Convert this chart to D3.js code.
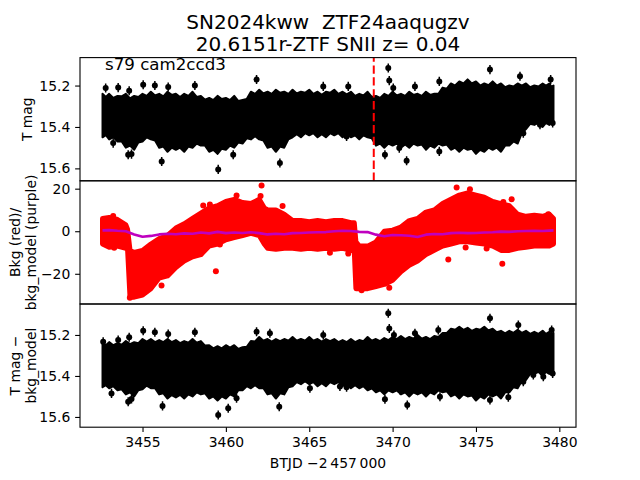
<!DOCTYPE html>
<html><head><meta charset="utf-8">
<script src="https://cdn.jsdelivr.net/npm/d3@7"></script>
<style>
body{margin:0;background:#fff;}
text{font-family:"DejaVu Sans",sans-serif;fill:#000;white-space:pre;}
</style>
</head><body><svg id="c" width="640" height="480"></svg>
<script>
// ---------------- DATA ----------------
const titleLines = ["SN2024kww  ZTF24aaqugzv", "20.6151r-ZTF SNII z= 0.04"];
const sectorLabel = "s79 cam2ccd3";
const xLabel = "BTJD \u22122\u2009457\u2009000";
const yLabels = [["T mag"], ["Bkg (red)/", "bkg_model (purple)"], ["T mag \u2212", "bkg_model"]];
const xTicks = [3455, 3460, 3465, 3470, 3475, 3480];
const magTicks = [15.2, 15.4, 15.6];
const bkgTicks = [20, 0, -20];
const xLimits = [3451.25, 3481.0];
const magLimits = [15.065, 15.66];
const bkgLimits = [-34.2, 23.7];
const magBkgLimits = [15.049, 15.65];
const eventTime = 3468.87;

// black band (panel 1: T mag) envelope, sampled at bandTime and at the in-between midTime
const bandTime = [3452.6,3453,3453.5,3454,3454.5,3455,3455.5,3456,3456.5,3457,3457.5,3458,3458.5,3459,3459.5,3460,3460.5,3461,3461.5,3462,3462.5,3463,3463.5,3464,3464.5,3465,3465.5,3466,3466.5,3467,3467.5,3468,3468.5,3469,3469.5,3470,3470.5,3471,3471.5,3472,3472.5,3473,3473.5,3474,3474.5,3475,3475.5,3476,3476.5,3477,3477.5,3478,3478.5,3479,3479.4,3479.65];
const magTop = [15.24,15.24,15.25,15.24,15.25,15.24,15.23,15.24,15.23,15.24,15.24,15.23,15.25,15.26,15.25,15.26,15.25,15.27,15.23,15.22,15.23,15.22,15.23,15.22,15.23,15.22,15.23,15.23,15.22,15.23,15.23,15.24,15.23,15.25,15.24,15.23,15.24,15.23,15.24,15.23,15.24,15.21,15.19,15.18,15.17,15.18,15.19,15.18,15.19,15.20,15.19,15.19,15.20,15.19,15.19,15.20];
const magBottom = [15.45,15.46,15.47,15.50,15.51,15.47,15.46,15.50,15.52,15.51,15.52,15.50,15.49,15.52,15.53,15.51,15.50,15.48,15.46,15.46,15.50,15.52,15.50,15.45,15.45,15.44,15.45,15.45,15.44,15.45,15.45,15.46,15.45,15.49,15.50,15.49,15.50,15.50,15.49,15.51,15.50,15.49,15.51,15.52,15.51,15.53,15.52,15.51,15.52,15.49,15.48,15.41,15.39,15.40,15.39,15.38];
const midTime = [3452.8,3453.25,3453.75,3454.25,3454.75,3455.25,3455.75,3456.25,3456.75,3457.25,3457.75,3458.25,3458.75,3459.25,3459.75,3460.25,3460.75,3461.25,3461.75,3462.25,3462.75,3463.25,3463.75,3464.25,3464.75,3465.25,3465.75,3466.25,3466.75,3467.25,3467.75,3468.25,3468.75,3469.25,3469.75,3470.25,3470.75,3471.25,3471.75,3472.25,3472.75,3473.25,3473.75,3474.25,3474.75,3475.25,3475.75,3476.25,3476.75,3477.25,3477.75,3478.25,3478.75,3479.2,3479.52];
const magTopMid = [15.255,15.26,15.252,15.262,15.255,15.25,15.248,15.252,15.245,15.255,15.25,15.255,15.268,15.27,15.265,15.27,15.275,15.265,15.24,15.238,15.24,15.235,15.24,15.238,15.235,15.24,15.245,15.235,15.24,15.242,15.25,15.248,15.255,15.26,15.25,15.248,15.25,15.245,15.25,15.245,15.24,15.215,15.2,15.19,15.19,15.2,15.198,15.2,15.208,15.205,15.2,15.208,15.205,15.2,15.205];
const magBottomMid = [15.44,15.45,15.47,15.49,15.475,15.45,15.465,15.495,15.5,15.5,15.495,15.48,15.49,15.51,15.505,15.49,15.475,15.455,15.445,15.465,15.495,15.495,15.46,15.435,15.43,15.43,15.435,15.43,15.43,15.435,15.44,15.44,15.455,15.48,15.48,15.48,15.485,15.48,15.485,15.49,15.48,15.485,15.5,15.5,15.505,15.51,15.5,15.5,15.49,15.47,15.43,15.385,15.38,15.38,15.37];
const magSpikeTime = [3452.79,3453.54,3454.2,3455.04,3455.74,3456.54,3458.14,3453.24,3454.14,3454.34,3456.15,3459.54,3460.44,3461.84,3463.24,3465.84,3467.34,3469.74,3469.8,3470.04,3471.34,3472.8,3475.84,3477.64,3479.48,3469.54,3470.4,3470.84,3472.8,3467.24,3477.84,3478.84,3479.6];
const magSpikeVal = [15.212,15.21,15.225,15.196,15.2,15.207,15.2,15.478,15.534,15.531,15.567,15.605,15.534,15.171,15.574,15.204,15.204,15.115,15.176,15.212,15.204,15.18,15.123,15.155,15.171,15.534,15.502,15.563,15.518,15.446,15.43,15.389,15.381];

// panel 2: background (red) envelope, outliers, and model (purple, sampled at bandTime)
const bkgTime = [3452.6,3453.0,3453.5,3454.0,3454.1,3454.25,3454.5,3455.0,3455.5,3456.0,3456.5,3457.0,3457.5,3458.0,3458.5,3459.0,3459.5,3460.0,3460.5,3461.0,3461.5,3462.0,3462.3,3462.5,3463.0,3463.5,3464.0,3464.5,3465.0,3465.5,3466.0,3466.5,3467.0,3467.5,3467.7,3467.8,3468.0,3468.5,3469.0,3469.5,3470.0,3470.5,3471.0,3471.5,3472.0,3472.5,3473.0,3473.5,3474.0,3474.5,3475.0,3475.5,3476.0,3476.5,3477.0,3477.5,3478.0,3478.5,3479.0,3479.4,3479.65];
const bkgTop = [6,6.5,5.5,3,1,-9,-10,-9,-6,-3.5,-2,1.5,3.5,6,8.5,11,12,14,15,13.5,13,15,11,10,10,8,5,5,4.5,5,4.5,5,5,4,4,-5,-7,-7,-5,0,0.5,2,5,6,9,10,13,15,17,18,17,16,14,13,12,8,7,7.5,7,8,6];
const bkgBottom = [-6,-7.5,-7,-8,-8,-31,-31,-30,-27,-22,-21,-17,-14,-12,-11,-7,-6,-4,-3,-2,-1,-2,-6,-8,-8.5,-8,-8,-8.5,-8,-8.5,-8,-8.5,-8,-9,-9,-27,-27,-27,-26,-25,-23,-19,-16,-14,-11,-9,-7,-6,-5,-5,-5.5,-6,-7,-9,-9,-8,-7.5,-7,-7,-7,-6];
const bkgOutTime = [3453.24,3453.3,3454.24,3454.42,3456.14,3458.64,3459.04,3459.4,3459.64,3460.64,3462.08,3462.14,3463.4,3466.24,3467.34,3468.14,3468.94,3469.8,3473.34,3473.84,3474.38,3474.64,3475.64,3476.58,3476.64,3477.14,3479.34];
const bkgOutVal = [7.1,-7.8,-31.3,-29,-25.5,12.1,12.6,-18.8,-6.2,16.8,16.5,21.5,11.8,-10.1,-10.5,-27.7,-25.5,-26.6,-13.3,20.5,-7.7,19.7,-8.1,-15.3,13.7,15,8];
const modelVal = [0.4,0.5,0.2,0,-1.5,-2.6,-2.2,-1.5,-1.2,-1.4,-1.0,-1.2,-0.6,-1.0,-0.3,-0.9,-0.6,-0.8,-0.5,-0.9,-1.5,-1.2,-1.4,-0.9,-0.8,-0.6,-0.5,-0.4,0.0,0.2,0.1,-0.3,-0.4,-1.6,-2.4,-1.8,-1.9,-2.1,-2.7,-1.6,-1.3,-1.4,-0.9,-0.7,-0.9,-0.8,-0.6,-0.5,-0.2,-0.3,0.0,0.1,0.2,0.1,0.3,0.4];

// panel 3: T mag - bkg_model envelope
const magBkgTop = [15.24,15.235,15.24,15.23,15.235,15.22,15.22,15.225,15.22,15.225,15.23,15.22,15.23,15.25,15.255,15.25,15.25,15.26,15.23,15.21,15.22,15.22,15.22,15.21,15.22,15.21,15.22,15.22,15.22,15.225,15.22,15.225,15.21,15.22,15.215,15.21,15.205,15.21,15.20,15.21,15.205,15.19,15.17,15.16,15.165,15.17,15.16,15.17,15.18,15.18,15.175,15.18,15.185,15.18,15.185,15.19];
const magBkgBottom = [15.455,15.46,15.47,15.49,15.50,15.465,15.46,15.49,15.51,15.505,15.51,15.50,15.49,15.51,15.52,15.51,15.50,15.47,15.46,15.46,15.49,15.51,15.49,15.45,15.44,15.44,15.45,15.45,15.44,15.45,15.46,15.46,15.47,15.48,15.49,15.48,15.49,15.50,15.49,15.50,15.49,15.48,15.50,15.51,15.50,15.52,15.51,15.50,15.51,15.48,15.46,15.42,15.39,15.40,15.39,15.38];
const magBkgTopMid = [15.25,15.25,15.248,15.245,15.24,15.232,15.235,15.235,15.235,15.24,15.238,15.238,15.252,15.265,15.265,15.262,15.268,15.258,15.232,15.228,15.232,15.23,15.228,15.228,15.228,15.228,15.232,15.23,15.235,15.235,15.235,15.23,15.228,15.23,15.225,15.22,15.22,15.218,15.218,15.22,15.21,15.19,15.175,15.175,15.18,15.175,15.178,15.187,15.192,15.19,15.19,15.195,15.195,15.195,15.2];
const magBkgBottomMid = [15.445,15.45,15.465,15.48,15.47,15.447,15.46,15.485,15.493,15.492,15.49,15.48,15.485,15.5,15.5,15.49,15.47,15.45,15.445,15.46,15.485,15.485,15.455,15.43,15.425,15.43,15.435,15.43,15.43,15.44,15.445,15.45,15.46,15.47,15.47,15.47,15.48,15.48,15.48,15.48,15.47,15.475,15.49,15.49,15.495,15.5,15.49,15.49,15.48,15.455,15.425,15.39,15.38,15.38,15.37];
const magBkgSpikeTime = [3452.64,3453.54,3454.2,3455.04,3455.74,3456.54,3458.14,3461.84,3462.64,3465.84,3453.14,3454.14,3454.34,3456.2,3459.54,3460.14,3460.64,3463.2,3465.04,3469.74,3469.8,3470.08,3471.34,3472.74,3475.84,3477.54,3479.54,3466.84,3467.24,3469.54,3470.44,3470.88,3472.84,3475.84,3476.94,3477.84,3478.44,3479.04,3479.6];
const magBkgSpikeVal = [15.233,15.225,15.211,15.179,15.187,15.195,15.187,15.184,15.192,15.2,15.485,15.526,15.512,15.546,15.59,15.558,15.509,15.55,15.46,15.094,15.168,15.2,15.192,15.176,15.119,15.151,15.176,15.452,15.455,15.514,15.468,15.542,15.501,15.517,15.504,15.428,15.395,15.404,15.388];

// ---------------- DRAW ----------------
const svg = d3.select("#c");
const L = 80, R = 576;
const panels = [[57.6, 180.8], [180.8, 304], [304, 427.2]];
const x = d3.scaleLinear().domain(xLimits).range([L, R]);
const y1 = d3.scaleLinear().domain(magLimits).range([panels[0][0], panels[0][1]]);
const y2 = d3.scaleLinear().domain(bkgLimits).range([panels[1][1], panels[1][0]]);
const y3 = d3.scaleLinear().domain(magBkgLimits).range([panels[2][0], panels[2][1]]);
const FS = 13.9;

const defs = svg.append("defs");
panels.forEach((p, i) => {
  defs.append("clipPath").attr("id", "clip" + i)
    .append("rect").attr("x", L).attr("y", p[0]).attr("width", R - L).attr("height", p[1] - p[0]);
});

function mergeSamples(tA, aA, bA, tB, aB, bB) {
  const pts = tA.map((t, i) => ({t, a: aA[i], b: bA[i]}));
  if (tB) tB.forEach((t, i) => pts.push({t, a: aB[i], b: bB[i]}));
  return pts.sort((p, q) => p.t - q.t);
}
function drawBand(g, ys, data, color, sw) {
  g.append("path").datum(data)
    .attr("d", d3.area().x(d => x(d.t)).y0(d => ys(d.b)).y1(d => ys(d.a)))
    .attr("fill", color).attr("stroke", color).attr("stroke-width", sw)
    .attr("stroke-linejoin", "round");
}
function drawSpikes(g, ys, time, vals, err) {
  time.forEach((t, i) => {
    g.append("line").attr("x1", x(t)).attr("x2", x(t))
      .attr("y1", ys(vals[i] - err)).attr("y2", ys(vals[i] + err))
      .attr("stroke", "#000").attr("stroke-width", 1.5);
    g.append("circle").attr("cx", x(t)).attr("cy", ys(vals[i])).attr("r", 3).attr("fill", "#000");
  });
}

// Panel 1
const g1 = svg.append("g").attr("clip-path", "url(#clip0)");
drawBand(g1, y1, mergeSamples(bandTime, magTop, magBottom, midTime, magTopMid, magBottomMid), "#000", 2);
drawSpikes(g1, y1, magSpikeTime, magSpikeVal, 0.022);
g1.append("line").attr("x1", x(eventTime)).attr("x2", x(eventTime))
  .attr("y1", panels[0][1]).attr("y2", panels[0][0])
  .attr("stroke", "#ff0000").attr("stroke-width", 2).attr("stroke-dasharray", "8.3,3.6");

// Panel 2
const g2 = svg.append("g").attr("clip-path", "url(#clip1)");
drawBand(g2, y2, mergeSamples(bkgTime, bkgTop, bkgBottom), "#ff0000", 5);
bkgOutTime.forEach((t, i) => {
  g2.append("circle").attr("cx", x(t)).attr("cy", y2(bkgOutVal[i])).attr("r", 3).attr("fill", "#ff0000");
});
g2.append("path").datum(bandTime.map((t, i) => [t, modelVal[i]]))
  .attr("d", d3.line().x(d => x(d[0])).y(d => y2(d[1])))
  .attr("fill", "none").attr("stroke", "#bf00bf").attr("stroke-width", 2.6).attr("stroke-linejoin", "round");

// Panel 3
const g3 = svg.append("g").attr("clip-path", "url(#clip2)");
drawBand(g3, y3, mergeSamples(bandTime, magBkgTop, magBkgBottom, midTime, magBkgTopMid, magBkgBottomMid), "#000", 2);
drawSpikes(g3, y3, magBkgSpikeTime, magBkgSpikeVal, 0.022);

// Axes
function styleAxis(g) {
  g.selectAll("text").attr("font-size", FS).attr("font-family", "DejaVu Sans").attr("fill", "#000");
  g.selectAll("line").attr("stroke", "#000").attr("stroke-width", 1.1);
  g.select(".domain").remove();
}
[[y1, magTicks, d3.format(".1f")], [y2, bkgTicks, d3.format("d")], [y3, magTicks, d3.format(".1f")]].forEach(([s, tv, f]) => {
  const ax = svg.append("g").attr("transform", `translate(${L},0)`)
    .call(d3.axisLeft(s).tickValues(tv).tickFormat(f).tickSize(4.86).tickPadding(4.86));
  styleAxis(ax);
});
const axb = svg.append("g").attr("transform", `translate(0,${panels[2][1]})`)
  .call(d3.axisBottom(x).tickValues(xTicks).tickFormat(d3.format("d")).tickSize(4.86).tickPadding(4.86));
styleAxis(axb);

// Spines
panels.forEach(p => {
  svg.append("rect").attr("x", L).attr("y", p[0]).attr("width", R - L).attr("height", p[1] - p[0])
    .attr("fill", "none").attr("stroke", "#000").attr("stroke-width", 1.1);
});

// Texts
svg.append("text").attr("x", 328).attr("y", 29).attr("text-anchor", "middle").attr("font-size", 20).text(titleLines[0]);
svg.append("text").attr("x", 328).attr("y", 51).attr("text-anchor", "middle").attr("font-size", 20).text(titleLines[1]);
svg.append("text").attr("x", 105).attr("y", 70).attr("font-size", 16.67).text(sectorLabel);
svg.append("text").attr("x", 328).attr("y", 468).attr("text-anchor", "middle").attr("font-size", FS).text(xLabel);

const labelCenters = [[27], [15, 31], [15, 31]];
yLabels.forEach((lines, i) => {
  const cy = (panels[i][0] + panels[i][1]) / 2;
  lines.forEach((ln, j) => {
    svg.append("text").attr("transform", `translate(${labelCenters[i][j]},${cy}) rotate(-90)`)
      .attr("text-anchor", "middle").attr("dominant-baseline", "central")
      .attr("font-size", FS).text(ln);
  });
});
</script>
</body></html>
